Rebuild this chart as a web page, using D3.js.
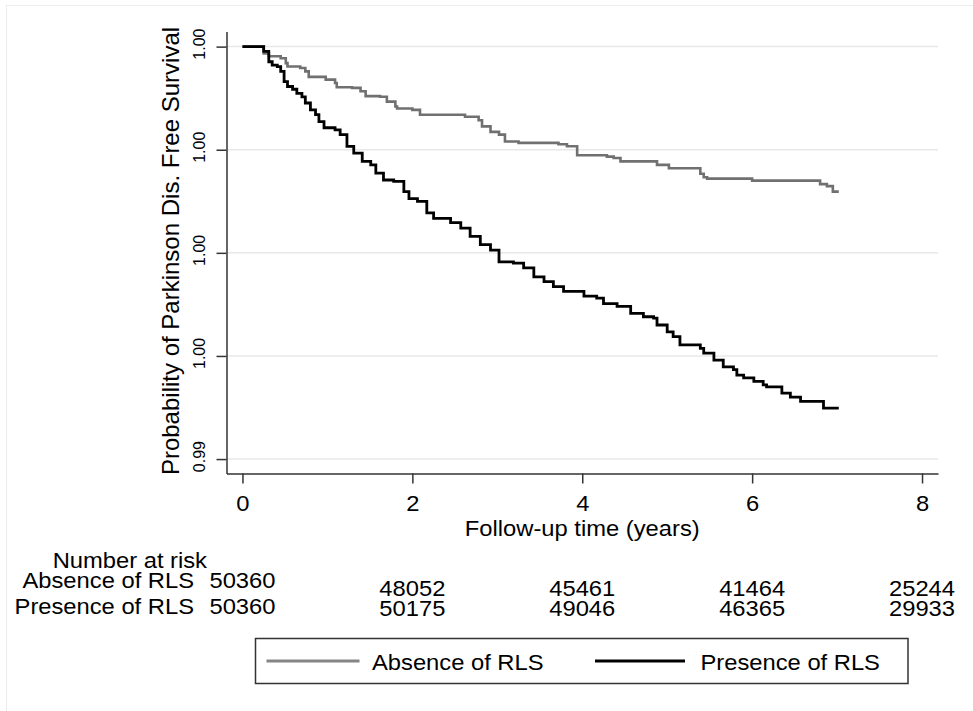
<!DOCTYPE html>
<html>
<head>
<meta charset="utf-8">
<script src="https://cdn.jsdelivr.net/npm/d3@7"></script>
<style>
    html, body { margin: 0; padding: 0; background: #fff; }
    text { font-family: "Liberation Sans", Arial, sans-serif; fill: #000; }
</style>
</head>
<body>
<div id="chart"></div>
<script>
//坐标轴刻度
var xTicks = [0, 2, 4, 6, 8];
var yTicks = [1.000, 0.9985, 0.997, 0.9955, 0.994];
var yTickLabels = ["1.00", "1.00", "1.00", "1.00", "0.99"];

//生存曲线 - Absence of RLS
var absenceTime = [0, 0.25, 0.31, 0.45, 0.51, 0.53, 0.68, 0.74, 0.78, 0.98, 1.09, 1.11, 1.29, 1.39, 1.45,
    1.62, 1.70, 1.80, 1.82, 2.00, 2.09, 2.62, 2.78, 2.82, 2.92, 3.02, 3.09, 3.25, 3.72, 3.82, 3.94,
    4.29, 4.37, 4.45, 4.88, 5.02, 5.39, 5.43, 5.47, 6.00, 6.80, 6.88, 6.95, 7.02];
var absenceSurv = [1.0, 0.99990, 0.99986, 0.99983, 0.99976, 0.99971, 0.99969, 0.99964, 0.99956, 0.99952,
    0.99947, 0.99941, 0.99940, 0.99935, 0.99928, 0.99927, 0.99920, 0.99913, 0.99910, 0.99908, 0.99901,
    0.99898, 0.99893, 0.99884, 0.99876, 0.99872, 0.99862, 0.99860, 0.99858, 0.99855, 0.99842, 0.99840,
    0.99838, 0.99833, 0.99828, 0.99823, 0.99815, 0.99810, 0.99808, 0.99805, 0.99800, 0.99797, 0.99789,
    0.99789];

//生存曲线 - Presence of RLS
var presenceTime = [0, 0.25, 0.31, 0.35, 0.41, 0.45, 0.49, 0.53, 0.59, 0.64, 0.70, 0.74, 0.80, 0.86, 0.90,
    0.96, 1.09, 1.15, 1.23, 1.31, 1.41, 1.51, 1.57, 1.66, 1.78, 1.90, 1.96, 2.06, 2.17, 2.25, 2.45, 2.57,
    2.68, 2.80, 2.92, 3.02, 3.19, 3.31, 3.43, 3.55, 3.66, 3.78, 4.02, 4.17, 4.25, 4.41, 4.57, 4.72, 4.84,
    4.88, 5.00, 5.07, 5.15, 5.39, 5.43, 5.55, 5.66, 5.78, 5.82, 5.90, 6.02, 6.13, 6.17, 6.35, 6.45, 6.57,
    6.84, 7.02];
var presenceSurv = [1.0, 0.99993, 0.99978, 0.99973, 0.99971, 0.99964, 0.99949, 0.99942, 0.99938, 0.99932,
    0.99927, 0.99918, 0.99908, 0.99901, 0.99891, 0.99882, 0.99879, 0.99872, 0.99855, 0.99845, 0.99833,
    0.99828, 0.99816, 0.99806, 0.99804, 0.99789, 0.99779, 0.99775, 0.99758, 0.99750, 0.99744, 0.99736,
    0.99724, 0.99712, 0.99704, 0.99687, 0.99685, 0.99678, 0.99665, 0.99658, 0.99651, 0.99644, 0.99637,
    0.99634, 0.99626, 0.99622, 0.99612, 0.99607, 0.99605, 0.99595, 0.99585, 0.99578, 0.99566, 0.99561,
    0.99554, 0.99544, 0.99534, 0.99530, 0.99522, 0.99518, 0.99513, 0.99508, 0.99505, 0.99496, 0.99490,
    0.99484, 0.99474, 0.99474];

//风险人数表
var riskTimes = [0, 2, 4, 6, 8];
var riskAbsence = [50360, 48052, 45461, 41464, 25244];
var riskPresence = [50360, 50175, 49046, 46365, 29933];
var groupNames = ["Absence of RLS", "Presence of RLS"];
var groupColors = ["#707070", "#000000"];

var width = 973, height = 711;
var SX = 1.08; //文字横向拉伸
var FS = 22;

var svg = d3.select("#chart").append("svg")
    .attr("width", width)
    .attr("height", height);

//外框
svg.append("rect")
    .attr("x", 6.5).attr("y", 5.5)
    .attr("width", 1000).attr("height", 740)
    .attr("fill", "none")
    .attr("stroke", "#ececec")
    .attr("stroke-width", 1);

var x = d3.scaleLinear()
    .domain([-0.188, 8.188])
    .range([226.5, 938]);
var y = d3.scaleLinear()
    .domain([0.99379, 1.00022])
    .range([473.5, 31.5]);

//横向文字
function hText(g, tx, ty, str, anchor) {
    return g.append("text")
        .attr("transform", "translate(" + tx + "," + ty + ") scale(" + SX + ",1)")
        .attr("text-anchor", anchor)
        .attr("font-size", FS)
        .text(str);
}

//网格线
svg.append("g")
    .attr("id", "grid")
    .selectAll("line")
    .data(yTicks)
    .enter()
    .append("line")
    .attr("x1", 227.5)
    .attr("x2", 938)
    .attr("y1", function (d) { return y(d); })
    .attr("y2", function (d) { return y(d); })
    .attr("stroke", "#e8e8e8")
    .attr("stroke-width", 1.5);

//x轴
var xAxis = d3.axisBottom(x)
    .tickValues(xTicks)
    .tickSize(10)
    .tickSizeOuter(0)
    .tickFormat(d3.format("d"));
var gx = svg.append("g")
    .attr("class", "x axis")
    .attr("transform", "translate(0,473.5)")
    .call(xAxis);
gx.select(".domain").attr("stroke", "#333").attr("stroke-width", 1.5);
gx.selectAll(".tick line").attr("stroke", "#333").attr("stroke-width", 1.5);
gx.selectAll(".tick text")
    .attr("font-size", FS)
    .attr("font-family", null)
    .attr("y", 37.5)
    .attr("dy", 0)
    .attr("transform", "scale(" + SX + ",1)");

//y轴
var yAxis = d3.axisLeft(y)
    .tickValues(yTicks)
    .tickSize(10)
    .tickSizeOuter(0)
    .tickFormat(function (d, i) { return yTickLabels[i]; });
var gy = svg.append("g")
    .attr("class", "y axis")
    .attr("transform", "translate(226.5,0)")
    .call(yAxis);
gy.select(".domain").attr("stroke", "#333").attr("stroke-width", 1.5);
gy.selectAll(".tick line").attr("stroke", "#333").attr("stroke-width", 1.5);
gy.selectAll(".tick text")
    .attr("font-size", 16)
    .attr("font-family", null)
    .attr("text-anchor", "middle")
    .attr("transform", "rotate(-90)")
    .attr("x", 3)
    .attr("y", -21.5)
    .attr("dy", 0);

//坐标轴标题
hText(svg, x(4), 536, "Follow-up time (years)", "middle");
svg.append("text")
    .attr("transform", "translate(178.5,251) rotate(-90)")
    .attr("text-anchor", "middle")
    .attr("font-size", 24)
    .text("Probability of Parkinson Dis. Free Survival");

//生存曲线
var line = d3.line()
    .x(function (d) { return x(d[0]); })
    .y(function (d) { return y(d[1]); })
    .curve(d3.curveStepAfter);

var series = [d3.zip(absenceTime, absenceSurv), d3.zip(presenceTime, presenceSurv)];
svg.append("g")
    .attr("id", "curves")
    .selectAll("path")
    .data(series)
    .enter()
    .append("path")
    .attr("d", line)
    .attr("fill", "none")
    .attr("stroke", function (d, i) { return groupColors[i]; })
    .attr("stroke-width", function (d, i) { return i === 0 ? 2.6 : 2.8; })
    .attr("stroke-linejoin", "miter");

//Number at risk
var gRisk = svg.append("g").attr("id", "risk");
hText(gRisk, 207, 568, "Number at risk", "end");
var rowY = [588, 613.5];
var rowYOther = [596, 616];
var riskRows = [riskAbsence, riskPresence];
riskRows.forEach(function (row, r) {
    hText(gRisk, 194, rowY[r], groupNames[r], "end");
    row.forEach(function (v, i) {
        hText(gRisk, x(riskTimes[i]), i === 0 ? rowY[r] : rowYOther[r], String(v), "middle");
    });
});

//图例
var gLegend = svg.append("g").attr("id", "legend");
gLegend.append("rect")
    .attr("x", 255.5).attr("y", 638.5)
    .attr("width", 652.5).attr("height", 45)
    .attr("fill", "#fff")
    .attr("stroke", "#333")
    .attr("stroke-width", 1.5);
var legendLineX = [[266.5, 359.5], [595, 685]];
var legendTextX = [372, 700.5];
groupNames.forEach(function (name, i) {
    gLegend.append("line")
        .attr("x1", legendLineX[i][0]).attr("x2", legendLineX[i][1])
        .attr("y1", 661).attr("y2", 661)
        .attr("stroke", i === 0 ? "#858585" : "#000")
        .attr("stroke-width", 3);
    hText(gLegend, legendTextX[i], 670, name, "start");
});
</script>
</body>
</html>
